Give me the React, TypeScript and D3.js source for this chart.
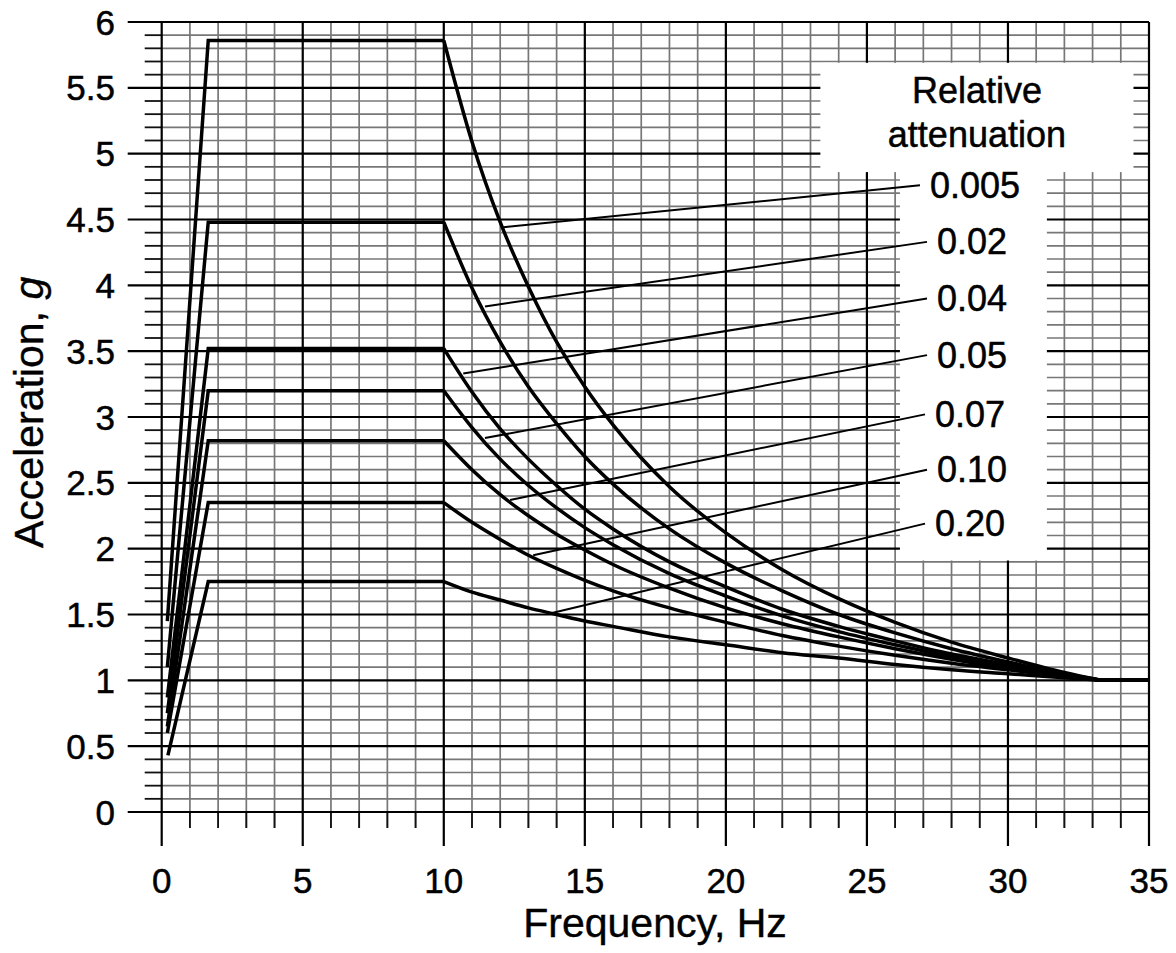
import React from "react";
import * as d3 from "d3";

// damping ratios (legend labels)
const dampingLabels = ["0.005", "0.02", "0.04", "0.05", "0.07", "0.10", "0.20"];

// rising branch: start point, then knee into the plateau
const startFreq = [0.2, 0.2, 0.2, 0.2, 0.2, 0.2, 0.22];
const startAccel = [1.45, 1.1, 0.87, 0.75, 0.65, 0.6, 0.43];
const kneeFreq = 1.65;
const plateauEnd = 10;
const plateauAccel = [5.86, 4.48, 3.52, 3.2, 2.82, 2.35, 1.75];

// decaying branch, read at these frequencies
const decayFreq = [10, 11, 12, 13, 14, 15, 16, 18, 20, 22, 24, 26, 28, 30, 32, 33.3];
const decay005 = [5.86, 5.09, 4.48, 3.99, 3.57, 3.23, 2.94, 2.47, 2.12, 1.84, 1.62, 1.44, 1.29, 1.17, 1.06, 1.0];
const decay02 = [4.48, 3.98, 3.57, 3.23, 2.95, 2.7, 2.49, 2.15, 1.89, 1.68, 1.5, 1.36, 1.24, 1.14, 1.05, 1.0];
const decay04 = [3.52, 3.19, 2.91, 2.68, 2.48, 2.3, 2.15, 1.9, 1.71, 1.54, 1.41, 1.3, 1.2, 1.12, 1.04, 1.0];
const decay05 = [3.2, 2.92, 2.68, 2.48, 2.31, 2.16, 2.03, 1.81, 1.64, 1.49, 1.37, 1.27, 1.18, 1.11, 1.04, 1.0];
const decay07 = [2.82, 2.6, 2.41, 2.25, 2.11, 1.99, 1.88, 1.7, 1.55, 1.43, 1.33, 1.24, 1.16, 1.09, 1.04, 1.0];
const decay10 = [2.35, 2.2, 2.07, 1.95, 1.85, 1.76, 1.68, 1.55, 1.44, 1.34, 1.26, 1.19, 1.13, 1.08, 1.03, 1.0];
const decay20 = [1.75, 1.67, 1.61, 1.55, 1.5, 1.45, 1.41, 1.33, 1.27, 1.21, 1.17, 1.12, 1.08, 1.05, 1.02, 1.0];
const decays = [decay005, decay02, decay04, decay05, decay07, decay10, decay20];

// flat tail
const tailFreq = [33.3, 35];
const tailAccel = 1.0;

// leader lines: point on curve -> label
const anchorFreq = [12.05, 11.46, 10.69, 11.46, 12.35, 13.17, 13.8];
const anchorAccel = [4.44, 3.84, 3.33, 2.84, 2.37, 1.95, 1.51];
const labelFreq = [26.88, 27.13, 27.13, 27.13, 27.06, 27.13, 27.06];
const labelAccel = [4.76, 4.33, 3.9, 3.47, 3.02, 2.6, 2.19];

const xTicks = [0, 5, 10, 15, 20, 25, 30, 35];
const yTicks = [0, 0.5, 1, 1.5, 2, 2.5, 3, 3.5, 4, 4.5, 5, 5.5, 6];

const W = 1176;
const H = 953;
const font = "'Liberation Sans', Arial, sans-serif";

const x = d3.scaleLinear().domain([0, 35]).range([161.7, 1149]);
const y = d3.scaleLinear().domain([0, 6]).range([812, 22]);

const App = () => {
  const linear = d3
    .line<[number, number]>()
    .x((d) => x(d[0]))
    .y((d) => y(d[1]));
  const smooth = d3
    .line<[number, number]>()
    .x((d) => x(d[0]))
    .y((d) => y(d[1]))
    .curve(d3.curveMonotoneX);

  const minorX = d3.range(0, 36, 1).filter((v) => v % 5 !== 0);
  const minorY = d3.range(0, 61).map((i) => i / 10).filter((_, i) => i % 5 !== 0);

  const [x0, x1] = x.range();
  const [yb, yt] = y.range();
  const legendMid = (x(23.35) + x(34.45)) / 2;

  return (
    <svg width={W} height={H} style={{ position: "absolute", left: 0, top: 0, background: "#fff" }}>
      <rect width={W} height={H} fill="#fff" />

      {/* minor grid */}
      <g stroke="#777" strokeWidth={1.7}>
        {minorX.map((v) => (
          <line key={"mx" + v} x1={x(v)} x2={x(v)} y1={yt} y2={yb + 16} />
        ))}
        {minorY.map((v) => (
          <line key={"my" + v} x1={x0} x2={x1} y1={y(v)} y2={y(v)} />
        ))}
      </g>
      {/* minor tick stubs in black */}
      <g stroke="#111" strokeWidth={1.8}>
        {minorX.map((v) => (
          <line key={"tx" + v} x1={x(v)} x2={x(v)} y1={yb} y2={yb + 16} />
        ))}
        {minorY.map((v) => (
          <line key={"ty" + v} x1={x0 - 17} x2={x0} y1={y(v)} y2={y(v)} />
        ))}
      </g>

      {/* major grid */}
      <g stroke="#000" strokeWidth={2.2}>
        {xTicks.map((v) => (
          <line key={"Mx" + v} x1={x(v)} x2={x(v)} y1={yt} y2={yb + 34} />
        ))}
        {yTicks.map((v) => (
          <line key={"My" + v} x1={x0 - 34} x2={x1} y1={y(v)} y2={y(v)} />
        ))}
      </g>

      {/* legend backgrounds */}
      <rect x={x(23.35)} y={y(5.69)} width={x(34.45) - x(23.35)} height={y(4.86) - y(5.69)} fill="#fff" />
      <rect x={x(26.17)} y={y(4.9)} width={x(31.38) - x(26.17)} height={y(1.91) - y(4.9)} fill="#fff" />

      {/* curves */}
      <g fill="none" stroke="#000" strokeWidth={3.5} strokeLinejoin="miter">
        {dampingLabels.map((lab, i) => {
          const rise: [number, number][] = [
            [startFreq[i], startAccel[i]],
            [kneeFreq, plateauAccel[i]],
            [plateauEnd, plateauAccel[i]],
          ];
          const fall: [number, number][] = decayFreq.map((f, j) => [f, decays[i][j]]);
          const tail: [number, number][] = tailFreq.map((f) => [f, tailAccel]);
          return (
            <g key={lab}>
              <path d={linear(rise) || ""} />
              <path d={smooth(fall) || ""} />
              <path d={linear(tail) || ""} />
            </g>
          );
        })}
      </g>

      {/* leader lines */}
      <g stroke="#000" strokeWidth={2}>
        {dampingLabels.map((lab, i) => (
          <line
            key={"ld" + lab}
            x1={x(anchorFreq[i])}
            y1={y(anchorAccel[i])}
            x2={x(labelFreq[i])}
            y2={y(labelAccel[i])}
          />
        ))}
      </g>

      {/* legend text */}
      <g fontFamily={font} fontSize={36} fill="#000" stroke="#000" strokeWidth={0.5}>
        <text x={legendMid} y={103} textAnchor="middle">
          Relative
        </text>
        <text x={legendMid} y={147} textAnchor="middle">
          attenuation
        </text>
        {dampingLabels.map((lab, i) => (
          <text key={"lt" + lab} x={x(labelFreq[i]) + 10} y={y(labelAccel[i]) + 12.5}>
            {lab}
          </text>
        ))}
      </g>

      {/* tick labels */}
      <g fontFamily={font} fontSize={35} fill="#000" stroke="#000" strokeWidth={0.5}>
        {xTicks.map((v) => (
          <text key={"xl" + v} x={x(v)} y={893} textAnchor="middle">
            {v}
          </text>
        ))}
        {yTicks.map((v) => (
          <text key={"yl" + v} x={115} y={y(v) + 12.5} textAnchor="end">
            {v}
          </text>
        ))}
      </g>

      {/* axis titles */}
      <g fontFamily={font} fontSize={41} fill="#000" stroke="#000" strokeWidth={0.4}>
        <text x={655} y={937} textAnchor="middle">
          Frequency, Hz
        </text>
        <text transform={`translate(43,548) rotate(-90)`} textAnchor="start">
          Acceleration, <tspan fontStyle="italic">g</tspan>
        </text>
      </g>
    </svg>
  );
};

export default App;
